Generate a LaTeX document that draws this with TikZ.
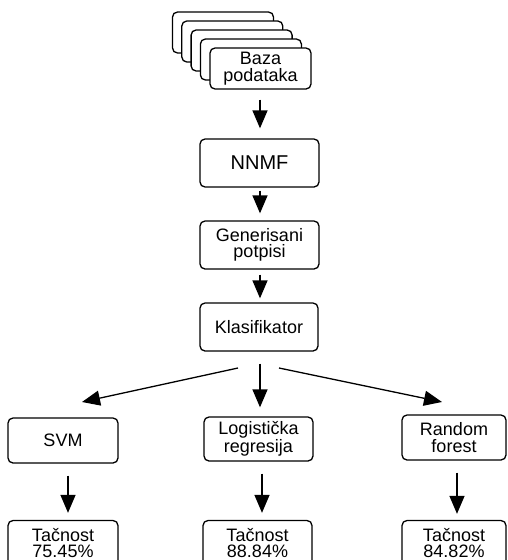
\documentclass[tikz,border=0pt]{standalone}
\usepackage{fontspec}
\setmainfont{Liberation Sans}
\usetikzlibrary{arrows.meta}
\begin{document}
\begin{tikzpicture}[x=1pt,y=-1pt,
  box/.style={draw, line width=1.3pt, rounded corners=5pt, fill=white, inner sep=0pt,
    align=center, font=\fontsize{18}{16.5}\selectfont},
  stackbox/.style={draw, line width=1.3pt, rounded corners=5pt, fill=white},
  arr/.style={line width=1.3pt, -{Triangle[width=15pt,length=18pt]}}]
\useasboundingbox (0,0) rectangle (507,560);
\begin{scope}
\clip (0,0) rectangle (507,560);
% stacked database sheets
\foreach \i in {0,1,2,3} {
  \draw[stackbox] ({172.5+9.3*\i},{12+9*\i}) rectangle ++(101,41);
}
\node[box, minimum width=101pt, minimum height=41pt] (db) at (260.5,68.5) {Baza\\podataka};
\node[box, minimum width=119pt, minimum height=48pt, font=\fontsize{20}{20}\selectfont] (nnmf) at (259.5,163) {NNMF};
\node[box, minimum width=119pt, minimum height=48pt] (gen) at (259.5,245) {Generisani\\potpisi};
\node[box, minimum width=118pt, minimum height=48pt] (klas) at (259,327) {Klasifikator};
\node[box, minimum width=110pt, minimum height=45pt] (svm) at (63,440.5) {SVM};
\node[box, minimum width=109pt, minimum height=44pt] (log) at (258.5,439) {Logistička\\regresija};
\node[box, minimum width=104pt, minimum height=45pt] (rf) at (454,437.5) {Random\\forest};
\node[box, minimum width=110pt, minimum height=45pt] (r1) at (63,543) {Tačnost\\75.45\%};
\node[box, minimum width=109pt, minimum height=45pt] (r2) at (257.5,543) {Tačnost\\88.84\%};
\node[box, minimum width=104pt, minimum height=45pt] (r3) at (454,543) {Tačnost\\84.82\%};
\coordinate (ls) at (238,368);
\coordinate (lt) at (82,402);
\coordinate (rs) at (279,368);
\coordinate (rt) at (442,402);
\end{scope}
\draw[arr, shorten <=10pt, shorten >=10pt] (db.south -| 260,0) -- (nnmf.north -| 260,0);
\draw[arr, shorten <=3pt, shorten >=7pt] (nnmf.south -| 260,0) -- (gen.north -| 260,0);
\draw[arr, shorten <=5pt, shorten >=4pt] (gen.south -| 260,0) -- (klas.north -| 260,0);
\draw[arr, shorten <=12pt, shorten >=9pt] (klas.south -| 260,0) -- (log.north -| 260,0);
\draw[arr] (ls) -- (lt);
\draw[arr] (rs) -- (rt);
\draw[arr, shorten <=12pt, shorten >=7pt] (svm.south -| 68,0) -- (r1.north -| 68,0);
\draw[arr, shorten <=12pt, shorten >=7pt] (log.south -| 262,0) -- (r2.north -| 262,0);
\draw[arr, shorten <=12pt, shorten >=6pt] (rf.south -| 457,0) -- (r3.north -| 457,0);
\end{tikzpicture}
\end{document}
